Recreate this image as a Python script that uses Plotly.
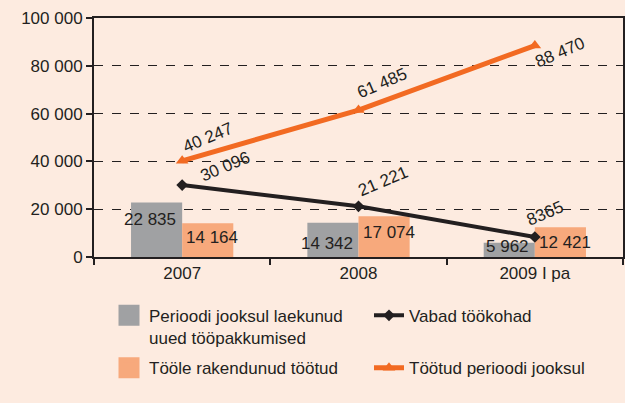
import plotly.graph_objects as go

categories = ["2007", "2008", "2009 I pa"]
offers = [22835, 14342, 5962]
employed = [14164, 17074, 12421]
vacancies = [30096, 21221, 8365]
unemployed = [40247, 61485, 88470]

offer_labels = ["22 835", "14 342", "5 962"]
employed_labels = ["14 164", "17 074", "12 421"]
vacancy_labels = ["30 096", "21 221", "8365"]
unemployed_labels = ["40 247", "61 485", "88 470"]

y_ticks = [0, 20000, 40000, 60000, 80000, 100000]
y_tick_labels = ["0", "20 000", "40 000", "60 000", "80 000", "100 000"]

name_offers = "Perioodi jooksul laekunud<br>uued tööpakkumised"
name_vac = "Vabad töökohad"
name_emp = "Tööle rakendunud töötud"
name_unemp = "Töötud perioodi jooksul"

BG = "#FDEBE0"
GRAY = "#A0A1A3"
ORANGE_BAR = "#F7A97C"
ORANGE = "#F26A22"
DARK = "#231F20"
FONT = "Liberation Sans, Arial, sans-serif"
FS = 17

fig = go.Figure()
fig.add_trace(go.Bar(x=categories, y=offers, marker_color=GRAY, marker_line_width=0,
                     name=name_offers, showlegend=False))
fig.add_trace(go.Bar(x=categories, y=employed, marker_color=ORANGE_BAR, marker_line_width=0,
                     name=name_emp, showlegend=False))
fig.add_trace(go.Scatter(x=categories, y=vacancies, mode="lines+markers",
                         line=dict(color=DARK, width=4),
                         marker=dict(symbol="diamond", size=9, color=DARK),
                         name=name_vac, showlegend=False))
fig.add_trace(go.Scatter(x=categories, y=unemployed, mode="lines+markers",
                         line=dict(color=ORANGE, width=5),
                         marker=dict(symbol="triangle-up", size=11, color=ORANGE),
                         name=name_unemp, showlegend=False))

# legend entries (two rows, two legends)
def swatch(name, color, legend):
    return go.Scatter(x=[None], y=[None], mode="markers", name=name, legend=legend,
                      marker=dict(symbol="square", size=16, color=color,
                                  line=dict(color=color, width=5)))

fig.add_trace(swatch(name_offers, GRAY, "legend"))
fig.add_trace(go.Scatter(x=[None], y=[None], mode="lines+markers", name=name_vac, legend="legend",
                         line=dict(color=DARK, width=4),
                         marker=dict(symbol="diamond", size=9, color=DARK)))
fig.add_trace(swatch(name_emp, ORANGE_BAR, "legend2"))
fig.add_trace(go.Scatter(x=[None], y=[None], mode="lines+markers", name=name_unemp, legend="legend2",
                         line=dict(color=ORANGE, width=5),
                         marker=dict(symbol="triangle-up", size=11, color=ORANGE)))

ann = []
gray_yshift = [-17, -21, -4]
orange_yshift = [-14, -16, -15]
for i, c in enumerate(categories):
    ann.append(dict(x=i, y=offers[i], text=offer_labels[i], showarrow=False,
                    xanchor="right", yanchor="middle", xshift=-4, yshift=gray_yshift[i]))
    ann.append(dict(x=i, y=employed[i], text=employed_labels[i], showarrow=False,
                    xanchor="left", yanchor="middle", xshift=2, yshift=orange_yshift[i]))

vac_shift = [(43, 19), (24, 25), (10, 24)]
unemp_shift = [(26, 23), (23, 27), (25, -7)]
for i, c in enumerate(categories):
    ann.append(dict(x=i, y=vacancies[i], text=vacancy_labels[i], showarrow=False,
                    textangle=-23, xanchor="center", yanchor="middle",
                    xshift=vac_shift[i][0], yshift=vac_shift[i][1]))
    ann.append(dict(x=i, y=unemployed[i], text=unemployed_labels[i], showarrow=False,
                    textangle=-23, xanchor="center", yanchor="middle",
                    xshift=unemp_shift[i][0], yshift=unemp_shift[i][1]))

legend_common = dict(orientation="h", xref="container", yref="container",
                     x=0.1744, xanchor="left", yanchor="top",
                     entrywidth=215, valign="top", traceorder="normal",
                     itemsizing="trace",
                     font=dict(family=FONT, size=FS, color=DARK),
                     bgcolor="rgba(0,0,0,0)")

fig.update_layout(
    width=625, height=403,
    paper_bgcolor=BG, plot_bgcolor=BG,
    margin=dict(l=94, r=2, t=18, b=146, autoexpand=False),
    barmode="group", bargap=0.42, bargroupgap=0,
    font=dict(family=FONT, size=FS, color=DARK),
    annotations=ann,
    showlegend=True,
    legend=dict(legend_common, y=0.261),
    legend2=dict(legend_common, y=0.131),
)
fig.update_xaxes(type="category", range=[-0.5, 2.5], showline=True, linecolor=DARK, linewidth=2, mirror=True,
                 ticks="outside", tickson="boundaries", ticklen=6, tickcolor=DARK, tickwidth=2,
                 showgrid=False, tickfont=dict(family=FONT, size=FS, color=DARK))
fig.update_yaxes(range=[0, 100000], tickvals=y_ticks, ticktext=y_tick_labels,
                 showline=True, linecolor=DARK, linewidth=2, mirror=True,
                 ticks="outside", ticklen=6, tickcolor=DARK, tickwidth=2,
                 showgrid=True, gridcolor=DARK, gridwidth=1, griddash="dash",
                 zeroline=False, tickfont=dict(family=FONT, size=FS, color=DARK))

fig.write_html("out.html", config={"displayModeBar": False},
               post_script="document.body.style.margin='0';document.body.style.background='%s';" % BG)
